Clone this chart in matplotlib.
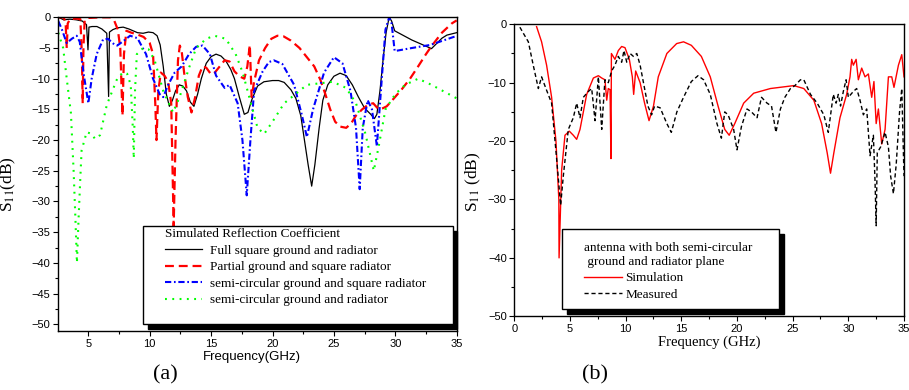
import numpy as np
import matplotlib.pyplot as plt
from matplotlib.patches import Rectangle
from matplotlib.ticker import MultipleLocator

plt.rcParams['font.family'] = ['Liberation Sans', 'DejaVu Sans']
plt.rcParams['mathtext.fontset'] = 'stix'
SERIF = ['Liberation Serif', 'DejaVu Serif']

# ---------------- (a) simulated reflection coefficient ----------------
full_f = [2.55, 3.0, 3.5, 4.0, 4.5, 4.85, 4.97, 5.05, 5.3, 5.7, 6.1, 6.5, 6.65, 6.72, 7.0, 7.4,
          7.84, 8.3, 8.65, 9.0, 9.46, 9.9, 10.27, 10.6, 10.85, 11.1, 11.35, 11.6, 11.85, 12.1,
          12.4, 12.7, 13.0, 13.3, 13.6, 13.9, 14.2, 14.6, 15.0, 15.4, 15.8, 16.2, 16.6, 16.9,
          17.3, 17.7, 18.0, 18.3, 18.78, 19.3, 20.0, 20.5, 20.95, 21.5, 21.9, 22.3, 22.6, 22.9,
          23.19, 23.45, 23.8, 24.1, 24.5, 25.0, 25.5, 26.0, 26.5, 27.0, 27.5, 28.0, 28.3, 28.5,
          28.75, 29.0, 29.25, 29.5, 29.7, 29.95, 31.35, 32.95, 33.8, 34.2, 35.0]
full_s = [0, -0.4, -0.3, -0.4, -0.6, -1.2, -5.3, -1.6, -1.5, -1.5, -1.9, -2.6, -12.9, -2.4, -2.0, -1.7,
          -1.6, -1.9, -2.2, -2.5, -2.6, -2.4, -2.5, -3.0, -4.5, -8, -12.5, -14.5, -13.5, -12,
          -11, -11.2, -12, -13.8, -14.5, -12.5, -10, -7.5, -6.4, -6.0, -6.3, -7.1, -8.5, -10,
          -13, -15.8, -15.5, -13.5, -11.2, -10.5, -10.3, -10.3, -10.6, -11.8, -13.2, -16, -20, -24,
          -27.5, -24, -18, -13.5, -11, -9.6, -9.1, -9.5, -11, -13, -14.8, -15.8, -16.5, -15.8,
          -12, -7, -2.5, 0, -0.6, -2.2, -3.7, -5.1, -3.4, -2.9, -2.5]

partial_f = [2.55, 3.0, 3.15, 3.24, 3.32, 3.5, 4.0, 4.35, 4.47, 4.54, 4.6, 4.7, 5.0, 6.0, 6.8, 7.1,
             7.4, 7.6, 7.78, 7.9, 8.1, 8.5, 9.0, 9.5, 10.0, 10.27, 10.45, 10.55, 10.7, 10.9, 11.2,
             11.5, 11.75, 11.95, 12.1, 12.3, 12.45, 12.6, 12.8, 13.1, 13.4, 13.7, 14.0, 14.3, 14.6,
             15.0, 15.3, 15.7, 16.1, 16.5, 16.9, 17.3, 17.7, 17.95, 18.15, 18.3, 18.5, 18.9, 19.4,
             19.9, 20.4, 20.9, 21.5, 22.2, 22.8, 23.4, 23.9, 24.3, 24.7, 25.1, 25.5, 26.0, 26.4,
             26.8, 27.3, 27.8, 28.2, 28.65, 29.0, 29.3, 29.8, 30.5, 31.2, 31.86, 32.5, 32.95,
             33.8, 34.6, 35.0]
partial_s = [0, 0, -1, -5, -1, -0.3, -0.2, -0.3, -6, -14, -5, -0.5, -0.1, 0, 0, -0.5,
             -2, -5, -16, -6, -2.2, -2.5, -2.8, -3.2, -4.2, -6, -14, -20, -12, -9, -9.5,
             -10.5, -14, -34, -20, -7, -4.6, -5.5, -9, -13, -15.5, -13, -9.5, -8, -8.2,
             -9.3, -9, -8, -7, -7.2, -8.8, -9.6, -10, -8, -4.5, -13, -10.5, -7, -5,
             -3.5, -3, -3.1, -3.8, -5, -6.5, -8, -10.2, -12.5, -15, -17, -17.8, -18, -17.3,
             -16, -15, -14.2, -14, -15, -14.8, -14.5, -13.4, -11.8, -10, -8, -6, -4.7,
             -2.5, -1, -0.5]

semisq_f = [2.55, 2.85, 3.24, 3.65, 4.05, 4.3, 4.6, 5.0, 5.27, 5.68, 6.2, 6.6, 7.1, 7.35, 7.9,
            8.4, 9.0, 9.7, 10.27, 10.8, 11.1, 11.5, 12.03, 12.6, 13.2, 13.78, 14.3, 14.9, 15.4,
            16.1, 16.5, 17.16, 17.55, 17.9, 18.2, 18.5, 19.2, 19.7, 20.1, 20.8, 21.76, 22.4,
            22.8, 23.3, 24.2, 25.0, 25.7, 26.35, 26.8, 27.1, 27.35, 27.75, 28.1, 28.5, 28.9,
            29.2, 29.5, 29.7, 29.95, 31.35, 32.85, 34.75, 35.0]
semisq_s = [-0.6, -2, -4.2, -3.5, -3.0, -4, -9, -14, -10, -6, -3.6, -3.5, -4.4, -4.6, -3.8,
            -3.0, -3.4, -6, -10, -12.5, -13, -11, -9, -8, -6, -4.8, -4.6, -6, -9.5,
            -11.5, -11, -14, -20, -29, -20, -12, -8.8, -7.3, -7, -7.6, -11, -16,
            -19.5, -15, -9, -6.5, -7.5, -12, -18, -28, -18, -13.5, -15, -21, -10,
            -2, 0, -1, -5.5, -5.0, -4.5, -3.2, -3.1]

semi_f = [2.55, 2.95, 3.24, 3.58, 3.8, 3.95, 4.07, 4.2, 4.35, 4.45, 4.86, 5.27, 5.54, 5.95, 6.22,
          6.5, 6.95, 7.35, 7.8, 8.16, 8.45, 8.62, 8.7, 8.8, 8.95, 9.46, 9.9, 10.4, 11.1, 11.9,
          12.43, 13.24, 13.78, 14.6, 15.27, 16.2, 17.0, 17.57, 18.24, 18.78, 19.32, 20.0, 20.95,
          22.8, 24.9, 26.0, 26.8, 27.57, 28.25, 28.65, 29.2, 30.0, 30.8, 31.86, 32.95, 35.0]
semi_s = [-2.5, -5, -10, -15.6, -25, -33, -40, -33, -26, -21.7, -18.7, -19, -19.8, -19.2, -16.8,
          -14.3, -12, -10, -9, -9.2, -11, -18, -23, -12, -6, -5, -5.2, -7, -12, -15.5,
          -13, -8, -5, -3.5, -3, -3.5, -6, -9, -14, -18, -19, -17, -14,
          -11, -10.5, -11.5, -14, -19, -25, -21, -15, -12.5, -11, -10, -11, -13.2]

# ---------------- (b) simulation vs measurement ----------------
sim_f = [2.0, 2.45, 2.9, 3.35, 3.74, 4.0, 4.02, 4.25, 4.55, 4.94, 5.3, 5.6, 5.9, 6.5, 7.1, 7.55,
         7.85, 8.14, 8.3, 8.44, 8.6, 8.68, 8.72, 9.04, 9.34, 9.64, 9.94, 10.33, 10.6, 10.72, 10.9,
         11.3, 11.7, 12.1, 12.5, 12.93, 13.7, 14.58, 15.2, 15.9, 16.8, 17.6, 18.3, 18.9, 19.3,
         19.8, 20.6, 21.5, 23.0, 25.1, 26.0, 26.9, 27.6, 28.1, 28.4, 28.7, 29.25, 29.85, 30.15,
         30.3, 30.45, 30.7, 30.9, 31.2, 31.5, 31.8, 32.1, 32.3, 32.5, 32.7, 33.0, 33.3, 33.6,
         33.9, 34.1, 34.5, 34.8, 35.0]
sim_s = [-0.4, -3, -7, -12.5, -20, -30, -40, -25, -19, -18.3, -19, -19.7, -18, -12, -9.2, -8.8,
         -9.2, -9.5, -13, -11, -11.2, -23, -5, -6, -4.5, -3.8, -4, -6, -9, -12, -8,
         -10, -13.5, -16.5, -14, -9, -5, -3.3, -3, -3.6, -5.5, -9, -14, -18, -19,
         -17, -13.5, -11.8, -11, -10.5, -11, -13, -17, -22, -25.5, -22, -16, -12, -9,
         -6, -7, -6, -9.5, -7.5, -9, -8.5, -12.5, -9.8, -17, -14.5, -20.5, -18, -9,
         -9, -10.8, -7, -5.2, -9]

meas_f = [0.5, 0.8, 1.26, 1.7, 2.16, 2.45, 2.84, 3.35, 3.8, 4.16, 4.4, 4.85, 5.3, 5.6, 5.9, 6.2,
          6.65, 6.95, 7.25, 7.55, 7.85, 8.14, 8.44, 8.74, 9.04, 9.34, 9.64, 9.85, 10.1, 10.4, 10.7,
          11.0, 11.3, 11.6, 12.0, 12.33, 12.6, 13.1, 13.7, 14.1, 14.6, 15.2, 15.9, 16.5, 17.0,
          17.6, 18.2, 18.6, 18.9, 19.2, 19.7, 20.0, 20.4, 20.9, 21.3, 21.8, 22.2, 22.7, 23.1,
          23.5, 23.9, 24.3, 24.8, 25.2, 25.7, 26.0, 26.6, 27.2, 27.8, 28.2, 28.65, 28.9, 29.1,
          29.3, 29.55, 29.8, 30.0, 30.45, 30.75, 31.05, 31.35, 31.65, 31.95, 32.25, 32.4, 32.5,
          32.6, 32.9, 33.3, 33.6, 33.8, 34.05, 34.3, 34.6, 34.8, 35.0]
meas_s = [-0.5, -1.5, -3, -7, -11, -9, -11, -13.5, -23, -31, -26, -18, -16, -13.5, -16, -12.5,
          -11.5, -11, -16.5, -9, -18, -9.5, -10, -8, -7, -5.5, -6.5, -4.5, -6.5, -5, -5.5,
          -5, -7, -10, -14, -15.5, -14, -14.3, -17, -18.5, -15, -12.5, -9.8, -8.8, -9.5,
          -12, -17, -19.5, -15, -15.5, -18, -21.5, -17.5, -14.5, -15, -16, -12.5, -13.5, -14,
          -18.5, -14.5, -12.5, -11, -10.5, -9.5, -9.5, -12, -13.5, -15.5, -18.5, -12, -13.5, -12,
          -14, -11.5, -9.5, -12.5, -11.5, -11, -13, -15.5, -14.5, -22.5, -19, -27, -34.5,
          -22, -21, -18.5, -21, -26, -29, -24, -15, -11, -26]

fig = plt.figure(figsize=(9.09, 3.9), dpi=100)
ax1 = fig.add_axes([0.0641, 0.1513, 0.4383, 0.8043])
ax2 = fig.add_axes([0.5658, 0.1890, 0.4287, 0.7487])

l1, = ax1.plot(full_f, full_s, color='black', lw=0.9)
l2, = ax1.plot(partial_f, partial_s, color='red', lw=1.6, dashes=(4, 2.2))
l3, = ax1.plot(semisq_f, semisq_s, color='blue', lw=1.5, dashes=(3, 1.3, 0.8, 1.3))
l4, = ax1.plot(semi_f, semi_s, color='#00ff00', lw=1.5, dashes=(0.9, 2.6))

ax1.set_xlim(2.55, 35)
ax1.set_ylim(-51.1, 0)
ax1.xaxis.set_major_locator(MultipleLocator(5))
ax1.xaxis.set_minor_locator(MultipleLocator(2.5))
ax1.yaxis.set_major_locator(MultipleLocator(5))
ax1.yaxis.set_minor_locator(MultipleLocator(2.5))

r1, = ax2.plot(sim_f, sim_s, color='red', lw=1.0)
r2, = ax2.plot(meas_f, meas_s, color='black', lw=1.0, dashes=(3, 2))
ax2.set_xlim(0, 35)
ax2.set_ylim(-50, 0)
ax2.xaxis.set_major_locator(MultipleLocator(5))
ax2.xaxis.set_minor_locator(MultipleLocator(2.5))
ax2.yaxis.set_major_locator(MultipleLocator(10))
ax2.yaxis.set_minor_locator(MultipleLocator(5))

for ax in (ax1, ax2):
    ax.tick_params(which='major', length=3.5, width=0.8, labelsize=8, pad=2)
    ax.tick_params(which='minor', length=2, width=0.8)
    for sp in ax.spines.values():
        sp.set_linewidth(1.0)

ax1.set_xlabel('Frequency(GHz)', fontsize=9.5, va='top')
ax1.xaxis.set_label_coords(0.486, -0.065)
ax1.set_ylabel(r'S$_{11}$(dB)', family=SERIF, fontsize=12.5)
ax1.yaxis.set_label_coords(-0.1, 0.47)

ax2.set_xlabel('Frequency (GHz)', family=SERIF, fontsize=10.5, va='top')
ax2.xaxis.set_label_coords(0.4996, -0.065)
ax2.set_ylabel(r'S$_{11}$ (dB)', family=SERIF, fontsize=12.5)
ax2.yaxis.set_label_coords(-0.08, 0.46)

fig.text(0.1815, 0.038, '(a)', family=SERIF, fontsize=16, ha='center', va='center')
fig.text(0.6546, 0.038, '(b)', family=SERIF, fontsize=16, ha='center', va='center')


def boxed(x0, y0, x1, y1):
    # legend frame with a solid black drop shadow (pixel coords, y from top)
    W, H = 909.0, 390.0
    off = 4.5
    fig.patches.append(Rectangle(((x0 + off) / W, 1 - (y1 + off) / H), (x1 - x0) / W, (y1 - y0) / H,
                                 transform=fig.transFigure, facecolor='black', edgecolor='black',
                                 zorder=3))
    fig.patches.append(Rectangle((x0 / W, 1 - y1 / H), (x1 - x0) / W, (y1 - y0) / H,
                                 transform=fig.transFigure, facecolor='white', edgecolor='black',
                                 lw=1.0, zorder=4))


boxed(143, 226, 453, 324)
leg1 = fig.legend([l1, l2, l3, l4],
                  ['Full square ground and radiator', 'Partial ground and square radiator',
                   'semi-circular ground and square radiator', 'semi-circular ground and radiator'],
                  title='Simulated Reflection Coefficient', alignment='left',
                  loc='upper left', bbox_to_anchor=(165 / 909, 1 - 228 / 390),
                  frameon=False, borderpad=0, borderaxespad=0, handlelength=2.8,
                  handletextpad=0.6, labelspacing=0.33, prop={'family': SERIF, 'size': 9.5},
                  title_fontproperties={'family': SERIF, 'size': 9.5})
leg1.set_zorder(5)

boxed(562, 229, 779, 309)
leg2 = fig.legend([r1, r2], ['Simulation', 'Measured'],
                  title='antenna with both semi-circular\n ground and radiator plane',
                  alignment='left', loc='upper left', bbox_to_anchor=(584 / 909, 1 - 242 / 390),
                  frameon=False, borderpad=0, borderaxespad=0, handlelength=2.9,
                  handletextpad=0.25, labelspacing=0.33, prop={'family': SERIF, 'size': 9.5},
                  title_fontproperties={'family': SERIF, 'size': 9.5})
leg2.set_zorder(5)

fig.savefig('out.png', dpi=100)
